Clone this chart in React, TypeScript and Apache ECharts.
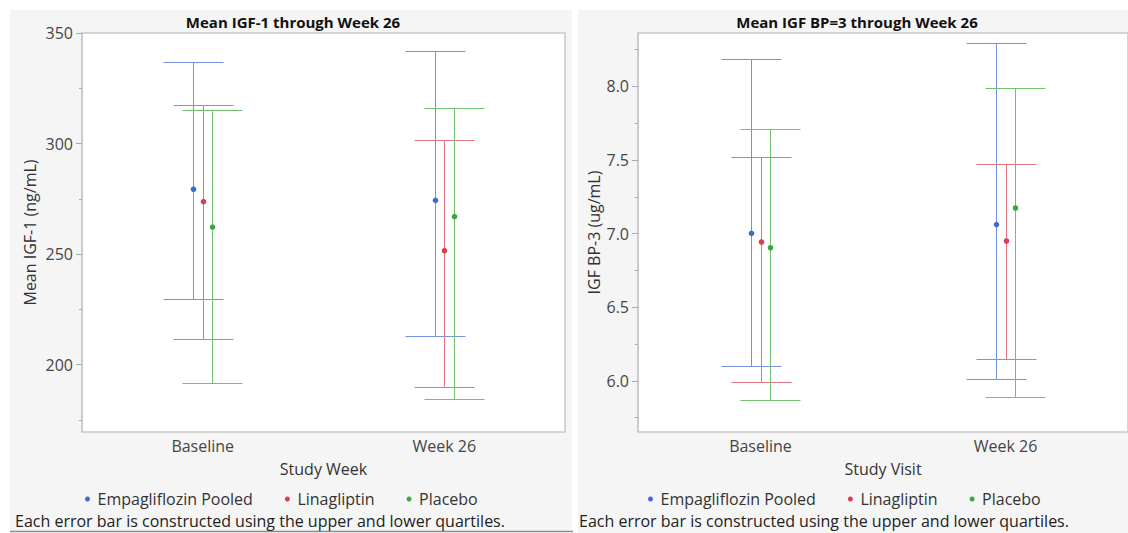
import React, { useEffect, useRef } from "react";
import * as echarts from "echarts";

// ---- data ----
const categories = ["Baseline", "Week 26"];
const groupNames = ["Empagliflozin Pooled", "Linagliptin", "Placebo"];

// Mean IGF-1 (ng/mL): mean, lower quartile, upper quartile per visit
const igf1EmpaMean = [279.3, 274.3];
const igf1EmpaQ1 = [229.6, 213.0];
const igf1EmpaQ3 = [337.0, 341.9];
const igf1LinaMean = [273.7, 251.5];
const igf1LinaQ1 = [211.4, 189.7];
const igf1LinaQ3 = [317.4, 301.4];
const igf1PlacMean = [262.2, 266.9];
const igf1PlacQ1 = [191.6, 184.4];
const igf1PlacQ3 = [315.2, 316.2];

// IGF BP-3 (ug/mL)
const bp3EmpaMean = [7.002, 7.061];
const bp3EmpaQ1 = [6.102, 6.016];
const bp3EmpaQ3 = [8.185, 8.292];
const bp3LinaMean = [6.943, 6.95];
const bp3LinaQ1 = [5.991, 6.147];
const bp3LinaQ3 = [7.52, 7.475];
const bp3PlacMean = [6.904, 7.174];
const bp3PlacQ1 = [5.869, 5.889];
const bp3PlacQ3 = [7.71, 7.988];

// axis ticks
const igf1Ticks = [200, 250, 300, 350];
const igf1MinorTicks = [175, 225, 275, 325];
const igf1Range = [169.5, 350];
const bp3Ticks = [6.0, 6.5, 7.0, 7.5, 8.0];
const bp3MinorTicks = [5.75, 6.25, 6.75, 7.25, 7.75, 8.25];
const bp3Range = [5.653, 8.362];

const footnote = "Each error bar is constructed using the upper and lower quartiles.";

// ---- styles ----
const FONT = "'Open Sans', 'Noto Sans', sans-serif";
const FS = 16;
const dotColors = ["#3d6cd8", "#d93f4f", "#3aa83a"];
const lineColors = ["#7391dc", "#e07481", "#72c072"];
const dodge = [-9.7, 0, 9.7];
const capHalf = 30;
const axisTextColor = "#454545";
const frameColor = "#c9c9c9";

function rows(mean: number[], q1: number[], q3: number[]) {
  return categories.map((_, i) => [i, mean[i], q1[i], q3[i]]);
}

function makeRender(k: number) {
  return (params: any, api: any) => {
    const cat = api.value(0);
    const m = api.coord([cat, api.value(1)]);
    const lo = api.coord([cat, api.value(2)]);
    const hi = api.coord([cat, api.value(3)]);
    const x = Math.round(m[0] + dodge[k]) + 0.5;
    const yLo = Math.round(lo[1]) + 0.5;
    const yHi = Math.round(hi[1]) + 0.5;
    const ls = { stroke: lineColors[k], lineWidth: 1 };
    return {
      type: "group",
      children: [
        { type: "line", shape: { x1: x, y1: yHi, x2: x, y2: yLo }, style: ls },
        { type: "line", shape: { x1: x - capHalf, y1: yHi, x2: x + capHalf, y2: yHi }, style: ls },
        { type: "line", shape: { x1: x - capHalf, y1: yLo, x2: x + capHalf, y2: yLo }, style: ls },
        { type: "circle", shape: { cx: x, cy: m[1], r: 2.8 }, style: { fill: dotColors[k] } },
      ],
    };
  };
}

function seriesFor(gridIdx: number, datasets: number[][][]) {
  return datasets.map((d, k) => ({
    type: "custom",
    name: groupNames[k],
    xAxisIndex: gridIdx,
    yAxisIndex: gridIdx * 2,
    data: d,
    encode: { x: 0, y: [1, 2, 3] },
    itemStyle: { color: dotColors[k] },
    renderItem: makeRender(k),
    clip: false,
  }));
}

function majorY(gridIdx: number, range: number[], ticks: number[], name: string, nameGap: number, digits: number) {
  return {
    type: "value",
    gridIndex: gridIdx,
    position: "left",
    min: range[0],
    max: range[1],
    name,
    nameLocation: "middle",
    nameGap,
    nameTextStyle: { fontSize: FS, color: "#333", fontFamily: FONT },
    axisLine: { show: true, lineStyle: { color: frameColor, width: 1.5 } },
    axisTick: { show: true, length: 6, customValues: ticks, lineStyle: { color: "#aaaaaa" } },
    axisLabel: {
      customValues: ticks,
      fontSize: FS,
      color: axisTextColor,
      fontFamily: FONT,
      margin: 9,
      formatter: (v: number) => v.toFixed(digits),
    },
    splitLine: { show: false },
  };
}

function minorY(gridIdx: number, range: number[], ticks: number[]) {
  return {
    type: "value",
    gridIndex: gridIdx,
    position: "left",
    offset: 0,
    min: range[0],
    max: range[1],
    axisLine: { show: false },
    axisTick: { show: true, length: 3, customValues: ticks, lineStyle: { color: "#aaaaaa" } },
    axisLabel: { show: false },
    splitLine: { show: false },
  };
}

function xAxisFor(gridIdx: number, name: string) {
  return {
    type: "category",
    gridIndex: gridIdx,
    data: categories,
    name,
    nameLocation: "middle",
    nameGap: 29,
    nameTextStyle: { fontSize: FS, color: "#333", fontFamily: FONT },
    axisLine: { show: false },
    axisTick: { show: false },
    axisLabel: { fontSize: FS, color: axisTextColor, fontFamily: FONT, margin: 6 },
    splitLine: { show: false },
  };
}

function legendFor(left: number) {
  return {
    left,
    top: 491,
    padding: 0,
    itemWidth: 10,
    itemHeight: 5,
    itemGap: 32,
    selectedMode: false,
    data: groupNames.map((n) => ({ name: n, icon: "circle" })),
    textStyle: { fontSize: FS, color: "#333", fontFamily: FONT },
  };
}

export default function App() {
  const ref = useRef<HTMLDivElement>(null);
  useEffect(() => {
    if (!ref.current) return;
    const chart = echarts.init(ref.current, undefined, { renderer: "svg" });
    const option: any = {
      animation: false,
      backgroundColor: "#ffffff",
      title: [
        {
          text: "Mean IGF-1 through Week 26",
          left: 288,
          top: 9,
          textAlign: "center",
          textStyle: { fontSize: 15, fontWeight: "bold", color: "#111", fontFamily: FONT },
        },
        {
          text: "Mean IGF BP=3 through Week 26",
          left: 852,
          top: 9,
          textAlign: "center",
          textStyle: { fontSize: 15, fontWeight: "bold", color: "#111", fontFamily: FONT },
        },
      ],
      legend: [legendFor(85), legendFor(648)],
      grid: [
        {
          left: 82, top: 33, width: 483, height: 399,
          show: true, backgroundColor: "#ffffff", borderColor: frameColor, borderWidth: 1.5,
        },
        {
          left: 638, top: 33, width: 494, height: 399,
          show: true, backgroundColor: "#ffffff", borderColor: frameColor, borderWidth: 1.5,
        },
      ],
      xAxis: [xAxisFor(0, "Study Week"), xAxisFor(1, "Study Visit")],
      yAxis: [
        majorY(0, igf1Range, igf1Ticks, "Mean IGF-1 (ng/mL)", 44, 0),
        minorY(0, igf1Range, igf1MinorTicks),
        majorY(1, bp3Range, bp3Ticks, "IGF BP-3 (ug/mL)", 36, 1),
        minorY(1, bp3Range, bp3MinorTicks),
      ],
      graphic: [
        { type: "rect", z: -100, silent: true, shape: { x: 10, y: 10, width: 562, height: 522 }, style: { fill: "#f5f5f5" } },
        { type: "rect", z: -100, silent: true, shape: { x: 578, y: 10, width: 560, height: 523 }, style: { fill: "#f5f5f5" } },
        { type: "line", z: -99, silent: true, shape: { x1: 10, y1: 531.5, x2: 573, y2: 531.5 }, style: { stroke: "#8c8c8c", lineWidth: 1.5 } },
        {
          type: "text", left: 15, top: 513,
          style: { text: footnote, fontSize: FS, fill: "#222", fontFamily: FONT },
        },
        {
          type: "text", left: 579, top: 513,
          style: { text: footnote, fontSize: FS, fill: "#222", fontFamily: FONT },
        },
      ],
      series: [
        ...seriesFor(0, [
          rows(igf1EmpaMean, igf1EmpaQ1, igf1EmpaQ3),
          rows(igf1LinaMean, igf1LinaQ1, igf1LinaQ3),
          rows(igf1PlacMean, igf1PlacQ1, igf1PlacQ3),
        ]),
        ...seriesFor(1, [
          rows(bp3EmpaMean, bp3EmpaQ1, bp3EmpaQ3),
          rows(bp3LinaMean, bp3LinaQ1, bp3LinaQ3),
          rows(bp3PlacMean, bp3PlacQ1, bp3PlacQ3),
        ]),
      ],
    };
    chart.setOption(option);
    return () => chart.dispose();
  }, []);
  return (
    <div
      ref={ref}
      style={{ position: "absolute", left: 0, top: 0, width: 1128, height: 533 }}
    />
  );
}
